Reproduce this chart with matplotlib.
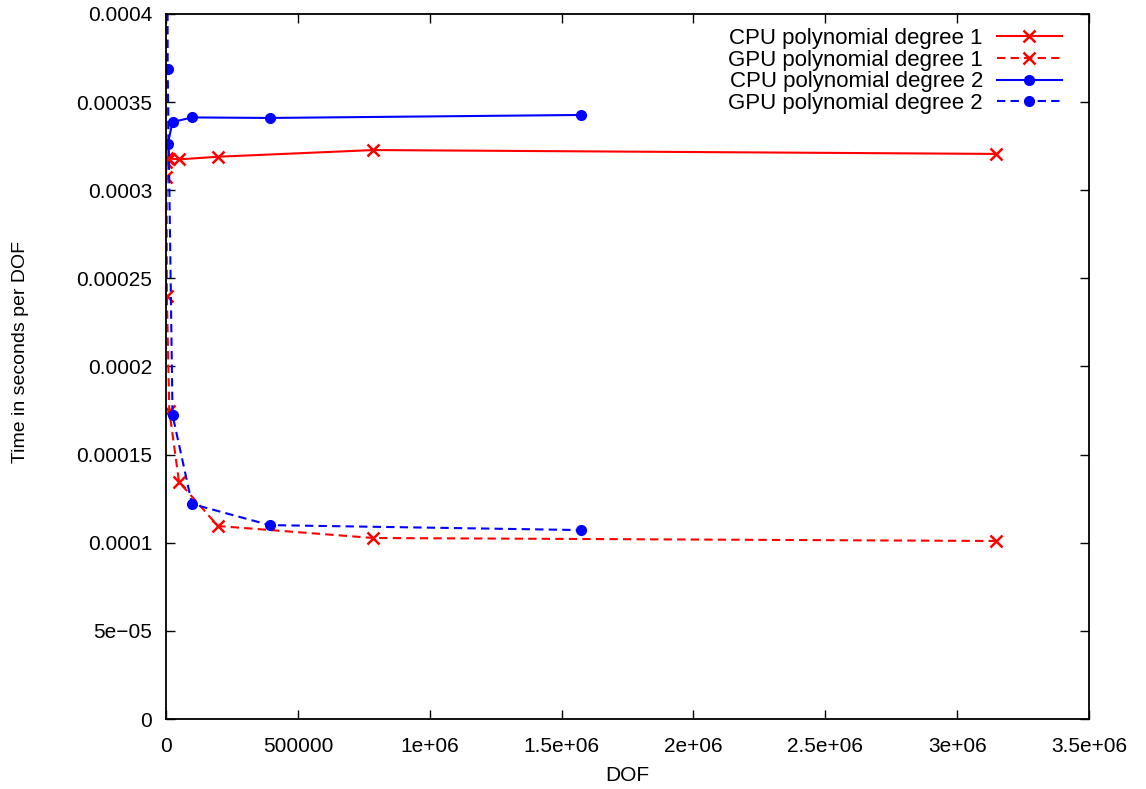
import numpy as np
import matplotlib
matplotlib.use("Agg")
import matplotlib.pyplot as plt

plt.rcParams['font.family'] = ['Liberation Sans', 'DejaVu Sans']

# degree 1
dof_p1 = [192, 768, 3072, 12288, 49152, 196608, 786432, 3145728]
cpu_p1 = [0.0003075, 0.000316, 0.0003185, 0.000318, 0.0003175, 0.000319, 0.0003228, 0.0003206]
gpu_p1 = [0.0012, 0.00045, 0.000240, 0.000175, 0.0001345, 0.0001095, 0.0001027, 0.000101]

# degree 2
dof_p2 = [6144, 24576, 98304, 393216, 1572864]
cpu_p2 = [0.000326, 0.0003387, 0.0003413, 0.000341, 0.0003427]
dof_p2_gpu = [1536, 6144, 24576, 98304, 393216, 1572864]
gpu_p2 = [0.0009, 0.000369, 0.0001725, 0.000122, 0.00011, 0.0001072]

xticks = [0, 500000, 1e6, 1.5e6, 2e6, 2.5e6, 3e6, 3.5e6]
xticklabels = ['0', '500000', '1e+06', '1.5e+06', '2e+06', '2.5e+06', '3e+06', '3.5e+06']
yticks = [0, 5e-5, 1e-4, 1.5e-4, 2e-4, 2.5e-4, 3e-4, 3.5e-4, 4e-4]
yticklabels = ['0', '5e\u221205', '0.0001', '0.00015', '0.0002', '0.00025', '0.0003', '0.00035', '0.0004']

fig = plt.figure(figsize=(11.46, 7.89), dpi=100)
ax = fig.add_axes([0.1449, 0.0887, 0.8054, 0.8936])

dash = (0, (4, 2.5))
ax.plot(dof_p1, cpu_p1, color='red', lw=1.5, marker='x', ms=8, mew=1.8, label='CPU polynomial degree 1')
ax.plot(dof_p1, gpu_p1, color='red', lw=1.5, ls=dash, marker='x', ms=8, mew=1.8, label='GPU polynomial degree 1')
ax.plot(dof_p2, cpu_p2, color='blue', lw=1.5, marker='o', ms=7, label='CPU polynomial degree 2')
ax.plot(dof_p2_gpu, gpu_p2, color='blue', lw=1.5, ls=dash, marker='o', ms=7, label='GPU polynomial degree 2')

ax.set_xlim(0, 3.5e6)
ax.set_ylim(0, 0.0004)
ax.set_xticks(xticks, xticklabels)
ax.set_yticks(yticks, yticklabels)
ax.tick_params(direction='in', length=6.5, width=1, top=True, right=True, labelsize=15)
ax.tick_params(axis='y', pad=10)
ax.tick_params(axis='x', pad=13)
for s in ax.spines.values():
    s.set_linewidth(1.3)

ax.set_xlabel('DOF', fontsize=15, labelpad=7)
ax.set_ylabel('Time in seconds per DOF', fontsize=14)
ax.yaxis.set_label_coords(-0.148, 0.52)

ax.legend(loc='upper right', bbox_to_anchor=(0.9707, 0.980), frameon=False, markerfirst=False,
          fontsize=16, handlelength=2.93, labelspacing=0.03, borderaxespad=0, borderpad=0,
          handletextpad=0.63)

fig.savefig('out.png', dpi=100)
